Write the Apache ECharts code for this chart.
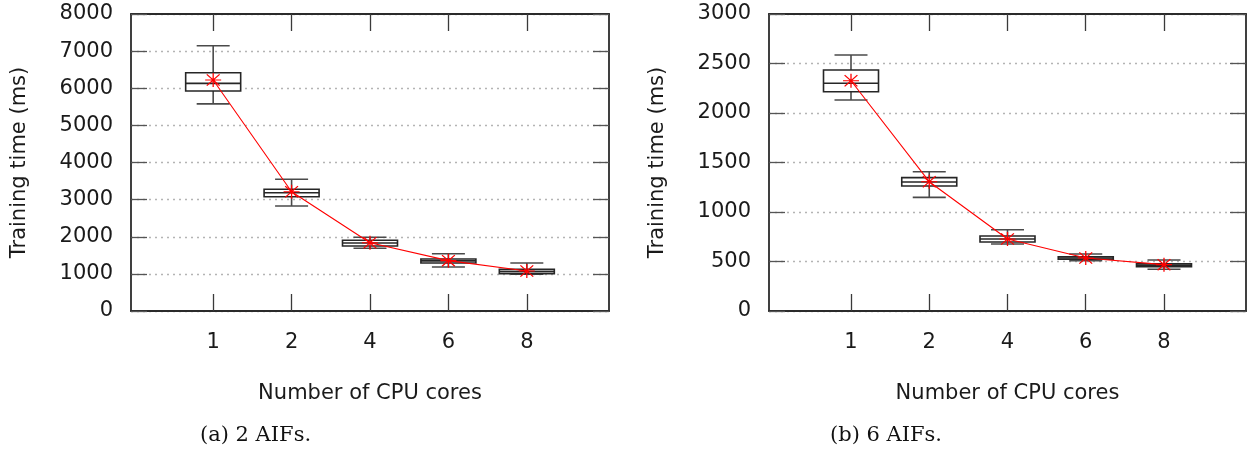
<!DOCTYPE html>
<html>
<head>
<meta charset="utf-8">
<script src="https://cdn.jsdelivr.net/npm/echarts@6/dist/echarts.min.js"></script>
<style>
  html, body { margin: 0; padding: 0; background: #ffffff; }
  #chart { width: 1255px; height: 455px; }
</style>
</head>
<body>
<div id="chart"></div>
<script>
// Number of CPU cores on the x axis
const cores = ['1', '2', '4', '6', '8'];

// Training time (ms), 2 AIFs: whisker low, Q1, median, Q3, whisker high, mean
const aif2Low    = [5580, 2830, 1690, 1185,  990];
const aif2Q1     = [5926, 3079, 1751, 1293, 1005];
const aif2Median = [6132, 3187, 1832, 1350, 1060];
const aif2Q3     = [6419, 3278, 1904, 1400, 1122];
const aif2High   = [7146, 3547, 1985, 1544, 1293];
const aif2Mean   = [6222, 3213, 1840, 1356, 1077];

// Training time (ms), 6 AIFs
const aif6Low    = [2131, 1148, 677, 508, 421];
const aif6Q1     = [2215, 1263, 697, 522, 448];
const aif6Median = [2300, 1303, 727, 535, 463];
const aif6Q3     = [2434, 1347, 758, 548, 478];
const aif6High   = [2586, 1407, 821, 576, 515];
const aif6Mean   = [2326, 1306, 727, 535, 468];

// y axis ticks
const aif2Ticks = { min: 0, max: 8000, step: 1000 };
const aif6Ticks = { min: 0, max: 3000, step: 500 };

const FONT = 'DejaVu Sans';
const AXIS_COLOR = '#2b2b2b';
const BOX_W = 55;
const CAP_W = 33;

// category positions 1..5 on a value axis with a little padding either side
const xPos = cores.map((_, i) => i + 1);
const X_MIN = -0.048, X_MAX = 6.048;

function boxRows(low, q1, med, q3, high) {
  return xPos.map((x, i) => [x, low[i], q1[i], med[i], q3[i], high[i]]);
}
function meanRows(mean) {
  return xPos.map((x, i) => [x, mean[i]]);
}

// box with whiskers whose caps are narrower than the box
function renderBox(params, api) {
  const x = api.value(0);
  const pLow = api.coord([x, api.value(1)]);
  const pQ1 = api.coord([x, api.value(2)]);
  const pMed = api.coord([x, api.value(3)]);
  const pQ3 = api.coord([x, api.value(4)]);
  const pHigh = api.coord([x, api.value(5)]);
  const cx = pLow[0];
  const hb = BOX_W / 2, hw = CAP_W / 2;
  const wStyle = { stroke: '#4a4a4a', lineWidth: 1.6, fill: null };
  const bStyle = { stroke: '#262626', lineWidth: 1.6, fill: '#ffffff' };
  return {
    type: 'group',
    children: [
      { type: 'line', shape: { x1: cx, y1: pLow[1], x2: cx, y2: pQ1[1] }, style: wStyle },
      { type: 'line', shape: { x1: cx, y1: pQ3[1], x2: cx, y2: pHigh[1] }, style: wStyle },
      { type: 'line', shape: { x1: cx - hw, y1: pLow[1], x2: cx + hw, y2: pLow[1] }, style: wStyle },
      { type: 'line', shape: { x1: cx - hw, y1: pHigh[1], x2: cx + hw, y2: pHigh[1] }, style: wStyle },
      { type: 'rect', shape: { x: cx - hb, y: pQ3[1], width: BOX_W, height: pQ1[1] - pQ3[1] }, style: bStyle },
      { type: 'line', shape: { x1: cx - hb, y1: pMed[1], x2: cx + hb, y2: pMed[1] }, style: { stroke: '#262626', lineWidth: 1.6 } }
    ]
  };
}

const STAR = 'path://M0,-10L0,10M-10,0L10,0M-8,-8L8,8M-8,8L8,-8';

function xAxes(gridIndex) {
  const common = {
    type: 'value', gridIndex: gridIndex, min: X_MIN, max: X_MAX,
    axisLine: { show: true, onZero: false, lineStyle: { color: AXIS_COLOR, width: 1.8 } },
    axisTick: { show: true, inside: true, length: 17, customValues: xPos, lineStyle: { color: '#3a3a3a', width: 1.3 } },
    splitLine: { show: false }
  };
  return [
    Object.assign({}, common, {
      position: 'bottom',
      axisLabel: { show: true, customValues: xPos, formatter: v => cores[Math.round(v) - 1], margin: 21, fontFamily: FONT, fontSize: 21, color: '#1a1a1a' },
      name: 'Number of CPU cores', nameLocation: 'middle', nameGap: 72,
      nameTextStyle: { fontFamily: FONT, fontSize: 21, color: '#1a1a1a' }
    }),
    Object.assign({}, common, { position: 'top', axisLabel: { show: false } })
  ];
}

function yAxes(gridIndex, t) {
  const common = {
    type: 'value', gridIndex: gridIndex, min: t.min, max: t.max, interval: t.step,
    axisLine: { show: true, onZero: false, lineStyle: { color: AXIS_COLOR, width: 1.8 } },
    axisTick: { show: true, inside: true, length: 16, lineStyle: { color: '#555', width: 1.3 } }
  };
  return [
    Object.assign({}, common, {
      position: 'left',
      axisLabel: { margin: 18, fontFamily: FONT, fontSize: 21, color: '#1a1a1a', formatter: v => String(v) },
      splitLine: { show: true, lineStyle: { color: '#b4b4b4', width: 1.3, type: [2, 4] } },
      name: 'Training time (ms)', nameLocation: 'middle', nameGap: 101, nameRotate: 90,
      nameTextStyle: { fontFamily: FONT, fontSize: 21, color: '#1a1a1a' }
    }),
    Object.assign({}, common, { position: 'right', axisLabel: { show: false }, splitLine: { show: false } })
  ];
}

const chart = echarts.init(document.getElementById('chart'), null, { renderer: 'canvas' });

chart.setOption({
  animation: false,
  backgroundColor: '#ffffff',
  grid: [
    { left: 131, top: 14, width: 478, height: 297 },
    { left: 769, top: 14, width: 477, height: 297 }
  ],
  xAxis: xAxes(0).concat(xAxes(1)),
  yAxis: yAxes(0, aif2Ticks).concat(yAxes(1, aif6Ticks)),
  series: [
    {
      type: 'custom', xAxisIndex: 0, yAxisIndex: 0, z: 2,
      renderItem: renderBox,
      data: boxRows(aif2Low, aif2Q1, aif2Median, aif2Q3, aif2High)
    },
    {
      type: 'line', xAxisIndex: 0, yAxisIndex: 0, z: 3,
      data: meanRows(aif2Mean),
      symbol: STAR, symbolSize: [16, 14],
      lineStyle: { color: '#ff0000', width: 1.1 },
      itemStyle: { color: '#ff0000', borderColor: '#ff0000', borderWidth: 1.2 },
      emphasis: { disabled: true }
    },
    {
      type: 'custom', xAxisIndex: 2, yAxisIndex: 2, z: 2,
      renderItem: renderBox,
      data: boxRows(aif6Low, aif6Q1, aif6Median, aif6Q3, aif6High)
    },
    {
      type: 'line', xAxisIndex: 2, yAxisIndex: 2, z: 3,
      data: meanRows(aif6Mean),
      symbol: STAR, symbolSize: [16, 14],
      lineStyle: { color: '#ff0000', width: 1.1 },
      itemStyle: { color: '#ff0000', borderColor: '#ff0000', borderWidth: 1.2 },
      emphasis: { disabled: true }
    }
  ],
  graphic: [
    { type: 'text', left: 200, top: 425, style: { text: '(a) 2 AIFs.', font: '21px "DejaVu Serif"', fill: '#111' } },
    { type: 'text', left: 830, top: 425, style: { text: '(b) 6 AIFs.', font: '21px "DejaVu Serif"', fill: '#111' } }
  ]
});
</script>
</body>
</html>
